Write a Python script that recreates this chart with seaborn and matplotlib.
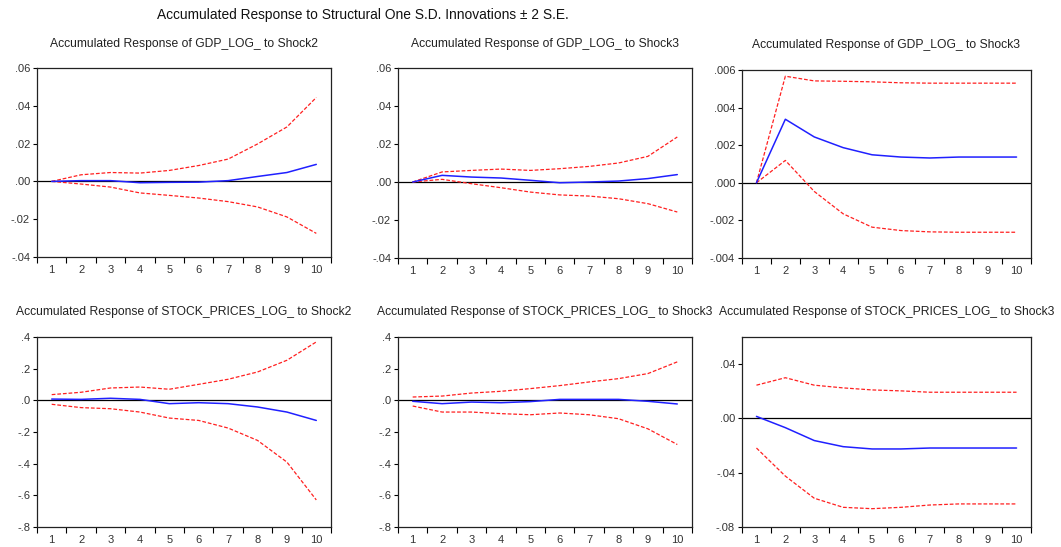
import numpy as np
import pandas as pd
import matplotlib
matplotlib.use("Agg")
import matplotlib.pyplot as plt
import seaborn as sns
from matplotlib.ticker import FixedLocator, FuncFormatter, NullFormatter

sns.set_style("white")
plt.rcParams['font.family'] = ['Liberation Sans', 'DejaVu Sans']

periods = list(range(1, 11))

# Panel 1: GDP_LOG_ to Shock2
gdp_s2_resp = [0.0, 0.0004, 0.0004, -0.0007, -0.0005, -0.0004, 0.0004, 0.0026, 0.0047, 0.0090]
gdp_s2_up = [0.0, 0.0035, 0.0047, 0.0044, 0.0058, 0.0084, 0.0118, 0.0198, 0.0288, 0.0444]
gdp_s2_lo = [0.0, -0.0014, -0.0030, -0.0061, -0.0074, -0.0088, -0.0107, -0.0135, -0.0188, -0.0275]

# Panel 2: GDP_LOG_ to Shock3
gdp_s3_resp = [0.0, 0.0035, 0.0026, 0.0021, 0.0009, -0.0004, 0.0, 0.0005, 0.0018, 0.0039]
gdp_s3_up = [0.0, 0.0053, 0.0061, 0.0068, 0.0061, 0.0070, 0.0082, 0.0100, 0.0135, 0.0237]
gdp_s3_lo = [0.0, 0.0014, -0.0009, -0.0030, -0.0053, -0.0068, -0.0074, -0.0088, -0.0114, -0.0158]

# Panel 3: GDP_LOG_ to Shock3 (zoomed)
gdp_s3b_resp = [0.0, 0.00338, 0.00244, 0.00187, 0.00149, 0.00137, 0.00132, 0.00137, 0.00137, 0.00137]
gdp_s3b_up = [0.0, 0.00567, 0.00542, 0.00540, 0.00537, 0.00532, 0.00530, 0.00530, 0.00530, 0.00530]
gdp_s3b_lo = [0.0, 0.00119, -0.00046, -0.00165, -0.00236, -0.00254, -0.00261, -0.00263, -0.00263, -0.00263]

# Panel 4: STOCK_PRICES_LOG_ to Shock2
stk_s2_resp = [0.008, 0.006, 0.013, 0.006, -0.021, -0.015, -0.021, -0.042, -0.074, -0.127]
stk_s2_up = [0.036, 0.051, 0.078, 0.084, 0.070, 0.101, 0.133, 0.179, 0.253, 0.369]
stk_s2_lo = [-0.025, -0.046, -0.053, -0.074, -0.112, -0.127, -0.175, -0.253, -0.390, -0.629]

# Panel 5: STOCK_PRICES_LOG_ to Shock3
stk_s3_resp = [-0.006, -0.021, -0.011, -0.015, -0.008, 0.006, 0.006, 0.006, -0.006, -0.023]
stk_s3_up = [0.021, 0.027, 0.046, 0.057, 0.074, 0.093, 0.116, 0.137, 0.169, 0.243]
stk_s3_lo = [-0.036, -0.074, -0.074, -0.084, -0.091, -0.080, -0.091, -0.116, -0.180, -0.279]

# Panel 6: STOCK_PRICES_LOG_ to Shock3 (zoomed)
stk_s3b_resp = [0.0015, -0.0068, -0.0163, -0.0208, -0.0225, -0.0225, -0.0218, -0.0218, -0.0218, -0.0218]
stk_s3b_up = [0.0245, 0.0300, 0.0245, 0.0225, 0.0210, 0.0203, 0.0193, 0.0193, 0.0193, 0.0193]
stk_s3b_lo = [-0.0218, -0.0425, -0.0588, -0.0655, -0.0665, -0.0655, -0.0638, -0.0630, -0.0630, -0.0630]

main_title = "Accumulated Response to Structural One S.D. Innovations \u00b1 2 S.E."
titles = [
    "Accumulated Response of GDP_LOG_ to Shock2",
    "Accumulated Response of GDP_LOG_ to Shock3",
    "Accumulated Response of GDP_LOG_ to Shock3",
    "Accumulated Response of STOCK_PRICES_LOG_ to Shock2",
    "Accumulated Response of STOCK_PRICES_LOG_ to Shock3",
    "Accumulated Response of STOCK_PRICES_LOG_ to Shock3",
]
panels = [
    (gdp_s2_resp, gdp_s2_up, gdp_s2_lo, (-0.04, 0.06), [-0.04, -0.02, 0.0, 0.02, 0.04, 0.06], 2),
    (gdp_s3_resp, gdp_s3_up, gdp_s3_lo, (-0.04, 0.06), [-0.04, -0.02, 0.0, 0.02, 0.04, 0.06], 2),
    (gdp_s3b_resp, gdp_s3b_up, gdp_s3b_lo, (-0.004, 0.006), [-0.004, -0.002, 0.0, 0.002, 0.004, 0.006], 3),
    (stk_s2_resp, stk_s2_up, stk_s2_lo, (-0.8, 0.4), [-0.8, -0.6, -0.4, -0.2, 0.0, 0.2, 0.4], 1),
    (stk_s3_resp, stk_s3_up, stk_s3_lo, (-0.8, 0.4), [-0.8, -0.6, -0.4, -0.2, 0.0, 0.2, 0.4], 1),
    (stk_s3b_resp, stk_s3b_up, stk_s3b_lo, (-0.08, 0.06), [-0.08, -0.04, 0.0, 0.04], 2),
]

W, H = 1061, 547
fig = plt.figure(figsize=(W / 100, H / 100), dpi=100)
fig.patch.set_facecolor("white")

# axes boxes in pixels: left, top, right, bottom
boxes = [
    (37, 68, 331, 257), (398, 68, 692, 258), (742, 70, 1031, 258),
    (37, 337, 331, 527), (398, 337, 692, 527), (742, 337, 1031, 527),
]
title_y = [44, 44, 45, 312, 312, 312]

def make_fmt(dec):
    def f(v, pos):
        s = f"{v:.{dec}f}"
        if s.startswith("0."):
            s = s[1:]
        elif s.startswith("-0."):
            s = "-" + s[2:]
        return s
    return f

for i, (box, (resp, up, lo, ylim, yt, dec)) in enumerate(zip(boxes, panels)):
    l, t, r, b = box
    ax = fig.add_axes([l / W, 1 - b / H, (r - l) / W, (b - t) / H])
    df = pd.DataFrame({"period": periods, "resp": resp, "up": up, "lo": lo})
    sns.lineplot(data=df, x="period", y="up", ax=ax, color="#ff2020", lw=0.9, linestyle=(0, (3, 1.5)))
    sns.lineplot(data=df, x="period", y="lo", ax=ax, color="#ff2020", lw=0.9, linestyle=(0, (3, 1.5)))
    sns.lineplot(data=df, x="period", y="resp", ax=ax, color="#2020ff", lw=1.1)
    ax.axhline(0, color="black", lw=0.9, zorder=1)
    ax.set_xlim(0.5, 10.5)
    ax.set_ylim(*ylim)
    ax.set_xlabel("")
    ax.set_ylabel("")
    ax.xaxis.set_major_locator(FixedLocator([k + 0.5 for k in range(0, 11)]))
    ax.xaxis.set_major_formatter(NullFormatter())
    ax.xaxis.set_minor_locator(FixedLocator(periods))
    ax.xaxis.set_minor_formatter(FuncFormatter(lambda v, p: f"{int(round(v))}"))
    ax.tick_params(axis="x", which="major", direction="out", length=4, width=0.8, color="black", bottom=True)
    ax.tick_params(axis="x", which="minor", length=0, labelsize=8, labelcolor="#333333", pad=6)
    ax.yaxis.set_major_locator(FixedLocator(yt))
    ax.yaxis.set_major_formatter(FuncFormatter(make_fmt(dec)))
    ax.tick_params(axis="y", which="major", direction="out", length=3, width=0.8, color="black", left=True,
                   labelsize=8, labelcolor="#333333", pad=2)
    for sp in ax.spines.values():
        sp.set_visible(True)
        sp.set_color("#222222")
        sp.set_linewidth(0.9)
    fig.text((l + r) / 2 / W, 1 - title_y[i] / H, titles[i], ha="center", va="center",
             fontsize=8.7, color="#222222")

fig.text(363 / W, 1 - 15 / H, main_title, ha="center", va="center", fontsize=9.9, color="#111111")

fig.savefig("out.png", dpi=100, facecolor="white")
